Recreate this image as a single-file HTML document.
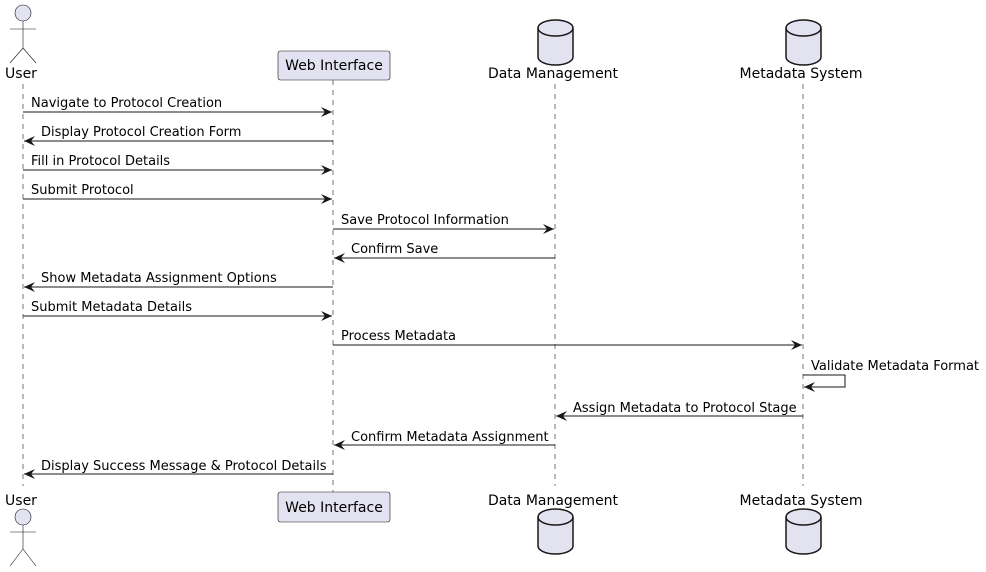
<!DOCTYPE html>
<html><head><meta charset="utf-8"><style>
html,body{margin:0;padding:0;background:#fff;}
svg{display:block;}
text{font-family:"DejaVu Sans","Liberation Sans",sans-serif;font-size:13px;fill:#000;}
text.p{font-size:14px;}
</style></head><body>
<svg width="986" height="572" viewBox="0 0 986 572" xmlns="http://www.w3.org/2000/svg">
<defs>
<marker id="a" markerWidth="12" markerHeight="10" refX="11" refY="5" orient="auto" markerUnits="userSpaceOnUse">
<path d="M0,0 L11,5 L0,10 L4,5 Z" fill="#181818"/>
</marker>
</defs>
<g stroke="#181818" stroke-width="0.6" stroke-dasharray="5,5">
<line x1="23" y1="84" x2="23" y2="486"/>
<line x1="333" y1="80" x2="333" y2="492"/>
<line x1="555" y1="84" x2="555" y2="486"/>
<line x1="803" y1="84" x2="803" y2="486"/>
</g>
<g stroke="#181818" stroke-width="0.6" fill="none">
<circle cx="23" cy="13" r="8" fill="#E2E2F0"/>
<line x1="23" y1="21" x2="23" y2="48"/>
<line x1="10" y1="29" x2="36" y2="29"/>
<line x1="23" y1="48" x2="10" y2="63"/>
<line x1="23" y1="48" x2="36" y2="63"/>
<circle cx="23" cy="517" r="8" fill="#E2E2F0"/>
<line x1="23" y1="525" x2="23" y2="549"/>
<line x1="10" y1="532" x2="36" y2="532"/>
<line x1="23" y1="549" x2="10" y2="566"/>
<line x1="23" y1="549" x2="36" y2="566"/>
</g>
<text class="p" x="21" y="78" text-anchor="middle">User</text>
<text class="p" x="21" y="505" text-anchor="middle">User</text>
<rect x="278" y="51" width="112" height="29" rx="2.5" fill="#E2E2F0" stroke="#181818" stroke-width="0.6"/>
<text class="p" x="334" y="70" text-anchor="middle">Web Interface</text>
<rect x="278" y="492" width="112" height="30" rx="2.5" fill="#E2E2F0" stroke="#181818" stroke-width="0.6"/>
<text class="p" x="334" y="512" text-anchor="middle">Web Interface</text>
<g fill="#E2E2F0" stroke="#181818" stroke-width="1.5">
<path d="M538,28 A17.5,8 0 0 1 573,28 L573,57 A17.5,8 0 0 1 538,57 Z"/>
<path d="M538,28 A17.5,8 0 0 0 573,28" fill="none"/>
<path d="M786,28 A17.5,8 0 0 1 821,28 L821,57 A17.5,8 0 0 1 786,57 Z"/>
<path d="M786,28 A17.5,8 0 0 0 821,28" fill="none"/>
<path d="M538,517 A17.5,8 0 0 1 573,517 L573,546 A17.5,8 0 0 1 538,546 Z"/>
<path d="M538,517 A17.5,8 0 0 0 573,517" fill="none"/>
<path d="M786,517 A17.5,8 0 0 1 821,517 L821,546 A17.5,8 0 0 1 786,546 Z"/>
<path d="M786,517 A17.5,8 0 0 0 821,517" fill="none"/>
</g>
<text class="p" x="553" y="78" text-anchor="middle">Data Management</text>
<text class="p" x="801" y="78" text-anchor="middle">Metadata System</text>
<text class="p" x="553" y="505" text-anchor="middle">Data Management</text>
<text class="p" x="801" y="505" text-anchor="middle">Metadata System</text>
<g stroke="#181818" stroke-width="1" marker-end="url(#a)">
<line x1="23" y1="112" x2="332" y2="112"/>
<line x1="333" y1="141" x2="24" y2="141"/>
<line x1="23" y1="170" x2="332" y2="170"/>
<line x1="23" y1="199" x2="332" y2="199"/>
<line x1="333" y1="229" x2="554" y2="229"/>
<line x1="555" y1="258" x2="334" y2="258"/>
<line x1="333" y1="287" x2="24" y2="287"/>
<line x1="23" y1="316" x2="332" y2="316"/>
<line x1="333" y1="345" x2="802" y2="345"/>
<polyline points="803,375 845,375 845,387 804,387" fill="none"/>
<line x1="803" y1="416" x2="556" y2="416"/>
<line x1="555" y1="445" x2="334" y2="445"/>
<line x1="333" y1="474" x2="24" y2="474"/>
</g>
<text x="31" y="107">Navigate to Protocol Creation</text>
<text x="41" y="136">Display Protocol Creation Form</text>
<text x="31" y="165">Fill in Protocol Details</text>
<text x="31" y="194">Submit Protocol</text>
<text x="341" y="224">Save Protocol Information</text>
<text x="351" y="253">Confirm Save</text>
<text x="41" y="282">Show Metadata Assignment Options</text>
<text x="31" y="311">Submit Metadata Details</text>
<text x="341" y="340">Process Metadata</text>
<text x="811" y="370">Validate Metadata Format</text>
<text x="573" y="412">Assign Metadata to Protocol Stage</text>
<text x="351" y="441">Confirm Metadata Assignment</text>
<text x="41" y="470">Display Success Message &amp; Protocol Details</text>
</svg>
</body></html>
